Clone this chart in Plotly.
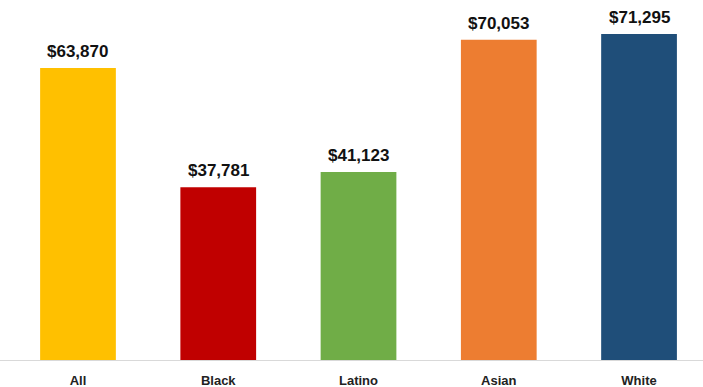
import plotly.graph_objects as go

categories = ["All", "Black", "Latino", "Asian", "White"]
values = [63870, 37781, 41123, 70053, 71295]
labels = ["$63,870", "$37,781", "$41,123", "$70,053", "$71,295"]
colors = ["#FFC000", "#C00000", "#70AD47", "#ED7D31", "#1F4E79"]

fig = go.Figure()
fig.add_trace(go.Bar(
    x=categories, y=values, marker_color=colors, marker_line_width=0,
    width=0.54, hoverinfo="skip",
))
for c, v, t in zip(categories, values, labels):
    fig.add_annotation(x=c, y=v, text=t, showarrow=False, yanchor="bottom",
                       yshift=5, font=dict(family="Liberation Sans", size=17, color="#111111", weight="bold"))

fig.update_layout(
    width=703, height=387, margin=dict(l=0, r=0, t=0, b=27),
    plot_bgcolor="white", paper_bgcolor="white", showlegend=False,
    xaxis=dict(range=[-0.556, 4.456], showgrid=False, showline=True, linecolor="#D9D9D9",
               linewidth=1, ticks="", ticklabelstandoff=8,
               tickfont=dict(family="Liberation Sans", size=13, color="#222222", weight="bold")),
    yaxis=dict(range=[0, 78740], visible=False, showgrid=False),
)
fig.write_html("out.html")
